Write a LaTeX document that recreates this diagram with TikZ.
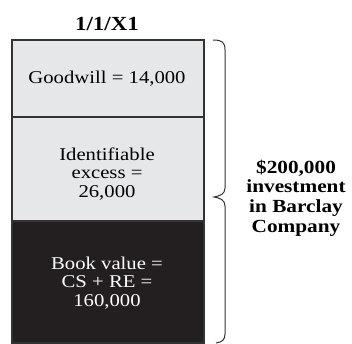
\documentclass[tikz,border=0pt]{standalone}
\usepackage{fontspec}
\setmainfont[FakeStretch=1.15]{Liberation Serif}
\definecolor{lightfill}{HTML}{E6E7E8}
\definecolor{darkfill}{HTML}{231F20}
\definecolor{edge}{HTML}{333333}
\begin{document}
\begin{tikzpicture}[x=1pt,y=-1pt,
  part/.style={draw=edge,line width=1.1pt},
  label/.style={align=center,font=\fontsize{18}{18.8}\selectfont,inner sep=0pt},
  head/.style={align=center,font=\bfseries\fontsize{18.5}{19.6}\selectfont,inner sep=0pt}]
\useasboundingbox (0,0) rectangle (352,343);
% stacked value segments
\filldraw[part,fill=lightfill] (12,40) rectangle (204,117);
\filldraw[part,fill=lightfill] (12,117) rectangle (204,221);
\filldraw[part,fill=darkfill] (12,221) rectangle (204,343);
\node[head,font=\bfseries\fontsize{20}{20}\selectfont] (date) at (107,24) {1/1/X1};
\node[label] (gw) at (107,79) {Goodwill = 14,000};
\node[label] (ie) at (107,174) {Identifiable\\excess =\\26,000};
\node[label,text=white] (bv) at (107,283) {Book value =\\CS + RE =\\160,000};
% brace spanning the whole stack
\draw[edge,line width=1pt]
  (213,40) .. controls (222,40) and (225,42) .. (225,50)
  -- (225,188) .. controls (225,194) and (220,196) .. (214,197)
  .. controls (220,198) and (225,200) .. (225,206)
  -- (225,334) .. controls (225,340) and (222,342) .. (216,343);
\node[head] (inv) at (296,198) {\$200,000\\investment\\in Barclay\\Company};
\end{tikzpicture}
\end{document}
